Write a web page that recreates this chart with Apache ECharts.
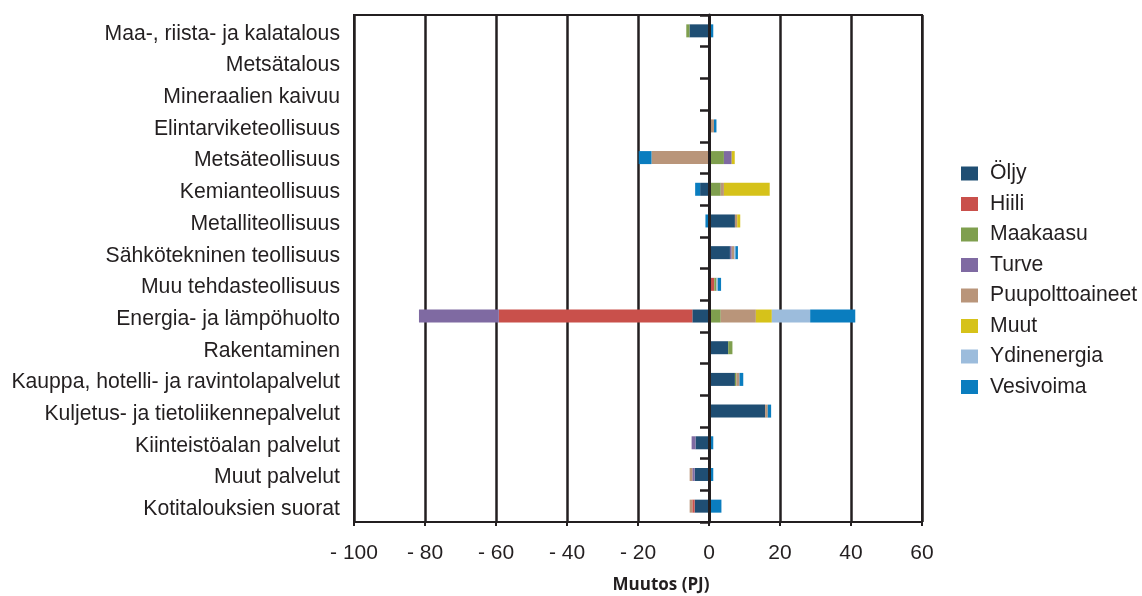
<!DOCTYPE html>
<html>
<head>
<meta charset="utf-8">
<script src="https://cdn.jsdelivr.net/npm/echarts@6/dist/echarts.min.js"></script>
<style>
  html, body { margin: 0; padding: 0; background: #ffffff; }
  #chart { width: 1142px; height: 596px; }
</style>
</head>
<body>
<div id="chart"></div>
<script>
// Toimialat (ylhäältä alas)
const categories = [
  'Maa-, riista- ja kalatalous',
  'Metsätalous',
  'Mineraalien kaivuu',
  'Elintarviketeollisuus',
  'Metsäteollisuus',
  'Kemianteollisuus',
  'Metalliteollisuus',
  'Sähkötekninen teollisuus',
  'Muu tehdasteollisuus',
  'Energia- ja lämpöhuolto',
  'Rakentaminen',
  'Kauppa, hotelli- ja ravintolapalvelut',
  'Kuljetus- ja tietoliikennepalvelut',
  'Kiinteistöalan palvelut',
  'Muut palvelut',
  'Kotitalouksien suorat'
];

// Muutos (PJ) energialähteittäin, samassa järjestyksessä kuin categories
const oljy          = [-5.5, 0.3, 0.3, 0,    0,     -2.5, 7.3,  5.9, 0.5, -4.7,  5.4, 7.3, 15.8, -3.8, -4.05, -4.05];
const hiili         = [0,    0,   0,   0,    0,     0,    0,    0,   1.0, -54.5, 0,   0,   0,    0,    0,     -0.65];
const maakaasu      = [-0.9, 0,   0,   0,    4.2,   3.3,  0,    0,   0.6, 3.3,   1.2, 0.4, 0,    0,    0,     0];
const turve         = [0,    0,   0,   0,    2.2,   0,    0,    0.5, 0,   -22.5, 0,   0,   0,    -1.1, -0.65, 0];
const puupolttoaineet = [0,  0,   0,   1.4,  -16.2, 0.9,  0.65, 0.75, 0,  9.9,   0,   0.9, 0.75, 0,    -0.75, -0.75];
const muut          = [0,    0,   0,   0,    0.85,  12.9, 0.85, 0,   0,   4.5,   0,   0,   0,    0,    0,     0];
const ydinenergia   = [0,    0,   0,   0,    0,     0,    0,    0.3, 0.4, 10.8,  0,   0,   0,    0,    0,     0];
const vesivoima     = [1.2,  0,   0,   0.7,  -3.6,  -1.4, -1.0, 0.7, 0.9, 12.7,  0,   1.05, 0.95, 1.2, 1.2,   3.5];

const xTicks = { min: -100, max: 60, step: 20 };
const axisTitle = 'Muutos (PJ)';

const seriesDefs = [
  { name: 'Öljy',            data: oljy,            color: '#1f4e73' },
  { name: 'Hiili',           data: hiili,           color: '#c9504b' },
  { name: 'Maakaasu',        data: maakaasu,        color: '#7f9f4e' },
  { name: 'Turve',           data: turve,           color: '#7f6aa2' },
  { name: 'Puupolttoaineet', data: puupolttoaineet, color: '#b9957a' },
  { name: 'Muut',            data: muut,            color: '#d6c21a' },
  { name: 'Ydinenergia',     data: ydinenergia,     color: '#9cbcdc' },
  { name: 'Vesivoima',       data: vesivoima,       color: '#0a7dbf' }
];

const ink = '#231f20';
const font = '"Liberation Sans", Arial, sans-serif';

const chart = echarts.init(document.getElementById('chart'), null, { renderer: 'canvas' });

chart.setOption({
  animation: false,
  backgroundColor: '#ffffff',
  title: {
    text: axisTitle,
    left: 656,
    top: 572,
    textAlign: 'center',
    textStyle: { fontFamily: '"Open Sans", sans-serif', fontWeight: 'bold', fontSize: 17, color: ink }
  },
  legend: {
    orient: 'vertical',
    left: 956,
    top: 158,
    itemWidth: 17,
    itemHeight: 14,
    itemGap: 9.5,
    icon: 'rect',
    textStyle: { fontFamily: font, fontSize: 21.2, color: ink, lineHeight: 14, padding: [0, 0, 0, 7] },
    data: seriesDefs.map(s => s.name)
  },
  grid: {
    left: 354, right: 220, top: 15, bottom: 74,
    show: true, borderColor: ink, borderWidth: 2, backgroundColor: 'transparent'
  },
  xAxis: {
    type: 'value',
    min: xTicks.min,
    max: xTicks.max,
    interval: xTicks.step,
    axisLine: { show: true, onZero: false, lineStyle: { color: ink, width: 2 } },
    axisTick: { show: true, length: 4, lineStyle: { color: ink, width: 2 } },
    splitLine: { show: true, lineStyle: { color: ink, width: 2.5 } },
    axisLabel: {
      margin: 21,
      fontFamily: font, fontSize: 21, color: ink,
      formatter: v => (v < 0 ? '- ' + Math.abs(v) : String(v))
    }
  },
  yAxis: [
    {
      type: 'category',
      inverse: true,
      data: categories,
      position: 'left',
      axisLine: { show: false, onZero: false },
      axisTick: { show: false },
      axisLabel: {
        margin: 14,
        formatter: v => '{c|' + v + '}',
        rich: { c: { fontFamily: font, fontSize: 21.2, color: ink, padding: [6, 0, 0, 0] } }
      }
    },
    {
      // zero line with category separators
      type: 'category',
      inverse: true,
      data: categories,
      position: 'left',
      z: 10,
      axisLine: { show: true, onZero: true, lineStyle: { color: ink, width: 3 } },
      axisTick: { show: true, length: 9, lineStyle: { color: ink, width: 2.5 } },
      axisLabel: { show: false }
    }
  ],
  series: seriesDefs.map(s => ({
    name: s.name,
    type: 'bar',
    stack: 'total',
    yAxisIndex: 0,
    barWidth: 13,
    itemStyle: { color: s.color },
    emphasis: { disabled: true },
    data: s.data
  }))
});
</script>
</body>
</html>
